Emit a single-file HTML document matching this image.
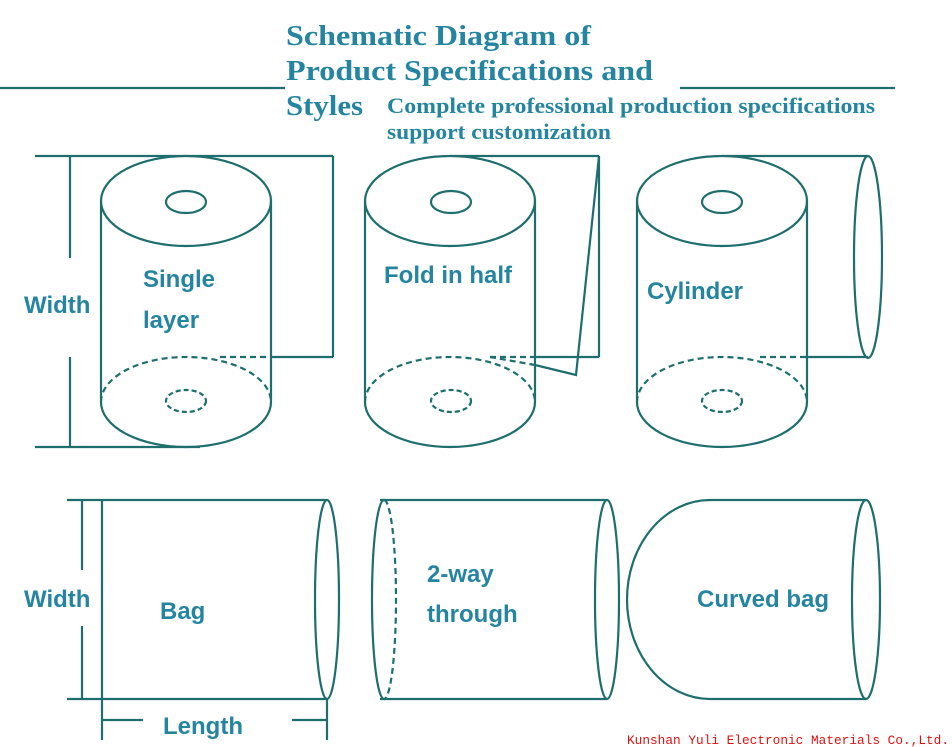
<!DOCTYPE html>
<html><head><meta charset="utf-8"><style>
html,body{margin:0;padding:0;background:#fff;}
svg{display:block;}
.s{font-family:"Liberation Sans",sans-serif;font-weight:bold;font-size:24px;fill:#2585a0;}
.t{font-family:"Liberation Serif",serif;font-weight:bold;fill:#2585a0;}
</style></head><body>
<svg width="952" height="747" viewBox="0 0 952 747" xmlns="http://www.w3.org/2000/svg">
<g fill="none" stroke="#1e6e6e" stroke-width="2.2">
<line x1="0" y1="88" x2="285" y2="88"/><line x1="680" y1="88" x2="895" y2="88"/>
<line x1="35" y1="156" x2="333" y2="156"/><line x1="35" y1="447" x2="200" y2="447"/>
<line x1="70" y1="156" x2="70" y2="258"/><line x1="70" y1="357" x2="70" y2="447"/>
<line x1="333" y1="156" x2="333" y2="357"/><line x1="271" y1="357" x2="333" y2="357"/>
<line x1="220" y1="357" x2="271" y2="357" stroke-dasharray="6,4"/>
<ellipse cx="186" cy="201" rx="85" ry="45" fill="#fff"/>
<ellipse cx="186" cy="202" rx="20" ry="11"/>
<line x1="101" y1="201" x2="101" y2="402"/><line x1="271" y1="201" x2="271" y2="402"/>
<path d="M101 402 A85 45 0 0 1 271 402" stroke-dasharray="6,4"/>
<path d="M101 402 A85 45 0 0 0 271 402"/>
<ellipse cx="186" cy="401" rx="20" ry="11" stroke-dasharray="5,3"/>
<line x1="450" y1="156" x2="599" y2="156"/><line x1="599" y1="156" x2="599" y2="357"/>
<line x1="535" y1="357" x2="599" y2="357"/><line x1="490" y1="357" x2="535" y2="357" stroke-dasharray="6,4"/>
<polyline points="599,156 576,375 535,365"/><line x1="490" y1="357" x2="535" y2="365" stroke-dasharray="6,4"/>
<ellipse cx="450" cy="201" rx="85" ry="45" fill="#fff"/>
<ellipse cx="451" cy="202" rx="20" ry="11"/>
<line x1="365" y1="201" x2="365" y2="402"/><line x1="535" y1="201" x2="535" y2="402"/>
<path d="M365 402 A85 45 0 0 1 535 402" stroke-dasharray="6,4"/>
<path d="M365 402 A85 45 0 0 0 535 402"/>
<ellipse cx="451" cy="401" rx="20" ry="11" stroke-dasharray="5,3"/>
<line x1="722" y1="156" x2="868" y2="156"/><line x1="807" y1="357" x2="868" y2="357"/>
<line x1="760" y1="357" x2="807" y2="357" stroke-dasharray="6,4"/>
<ellipse cx="868" cy="257" rx="14" ry="101"/>
<ellipse cx="722" cy="201" rx="85" ry="45" fill="#fff"/>
<ellipse cx="722" cy="202" rx="20" ry="11"/>
<line x1="637" y1="201" x2="637" y2="402"/><line x1="807" y1="201" x2="807" y2="402"/>
<path d="M637 402 A85 45 0 0 1 807 402" stroke-dasharray="6,4"/>
<path d="M637 402 A85 45 0 0 0 807 402"/>
<ellipse cx="722" cy="401" rx="20" ry="11" stroke-dasharray="5,3"/>
<line x1="67" y1="500" x2="327" y2="500"/><line x1="67" y1="699" x2="327" y2="699"/>
<line x1="82" y1="500" x2="82" y2="570"/><line x1="82" y1="626" x2="82" y2="699"/>
<line x1="102" y1="500" x2="102" y2="740"/><line x1="327" y1="699" x2="327" y2="740"/>
<line x1="102" y1="720" x2="143" y2="720"/><line x1="292" y1="720" x2="327" y2="720"/>
<ellipse cx="327" cy="599.5" rx="12" ry="99.5"/>
<line x1="380" y1="500" x2="607" y2="500"/><line x1="380" y1="699" x2="607" y2="699"/>
<path d="M384 500 A12 99.5 0 0 0 384 699"/>
<path d="M384 500 A12 99.5 0 0 1 384 699" stroke-dasharray="6,4"/>
<ellipse cx="607" cy="599.5" rx="12" ry="99.5"/>
<line x1="710" y1="500" x2="866" y2="500"/><line x1="710" y1="699" x2="866" y2="699"/>
<path d="M710 500 A83 99.5 0 0 0 710 699"/>
<ellipse cx="866" cy="599.5" rx="14" ry="99.5"/>
</g>
<text class="t" x="286" y="45" font-size="29" textLength="305" lengthAdjust="spacingAndGlyphs">Schematic Diagram of</text>
<text class="t" x="286" y="80" font-size="29" textLength="367" lengthAdjust="spacingAndGlyphs">Product Specifications and</text>
<text class="t" x="286" y="115" font-size="29" textLength="77" lengthAdjust="spacingAndGlyphs">Styles</text>
<text class="t" x="387" y="113" font-size="22" textLength="488" lengthAdjust="spacingAndGlyphs">Complete professional production specifications</text>
<text class="t" x="387" y="139" font-size="22" textLength="224" lengthAdjust="spacingAndGlyphs">support customization</text>
<text class="s" x="24" y="313">Width</text>
<text class="s" x="143" y="287">Single</text>
<text class="s" x="143" y="328">layer</text>
<text class="s" x="384" y="283">Fold in half</text>
<text class="s" x="647" y="299">Cylinder</text>
<text class="s" x="24" y="607">Width</text>
<text class="s" x="160" y="619">Bag</text>
<text class="s" x="163" y="734">Length</text>
<text class="s" x="427" y="582">2-way</text>
<text class="s" x="427" y="622">through</text>
<text class="s" x="697" y="607">Curved bag</text>
<text x="627" y="744" font-family="Liberation Mono, monospace" font-size="13" fill="#e01010" textLength="322" lengthAdjust="spacingAndGlyphs">Kunshan Yuli Electronic Materials Co.,Ltd.</text>
</svg>
</body></html>
